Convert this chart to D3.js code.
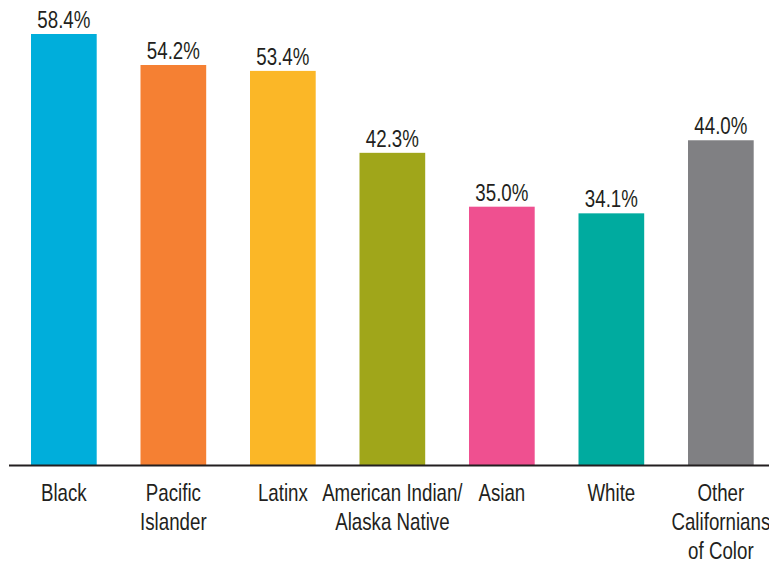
<!DOCTYPE html>
<html>
<head>
<meta charset="utf-8">
<script src="https://cdn.jsdelivr.net/npm/d3@7"></script>
<style>
  body { margin: 0; background: #fff; }
  text { font-family: "Liberation Sans", Arial, sans-serif; fill: #231f20; }
</style>
</head>
<body>
<script>
var w = 769;
var h = 562;

var groups = [
  ["Black"],
  ["Pacific", "Islander"],
  ["Latinx"],
  ["American Indian/", "Alaska Native"],
  ["Asian"],
  ["White"],
  ["Other", "Californians", "of Color"]
];
var values = [58.4, 54.2, 53.4, 42.3, 35.0, 34.1, 44.0];
var colors = ["#00aedb", "#f58033", "#fbb727", "#a0a61a", "#ef5090", "#00ab9f", "#808083"];

var baseY = 465;
// the original uses a condensed face, so squeeze text horizontally
var squeeze = 0.78;

var svg = d3.select("body")
            .append("svg")
            .attr("width", w)
            .attr("height", h);

var x = d3.scaleBand()
          .domain(d3.range(values.length))
          .range([9.1, 775.6])
          .paddingInner(0.4)
          .paddingOuter(0.2);

var y = d3.scaleLinear()
          .domain([0, 58.4])
          .range([baseY, 34]);

svg.selectAll("rect")
   .data(values)
   .enter()
   .append("rect")
   .attr("x", function(d, i){ return x(i); })
   .attr("y", function(d){ return y(d); })
   .attr("width", x.bandwidth())
   .attr("height", function(d){ return baseY - y(d); })
   .attr("fill", function(d, i){ return colors[i]; });

// value labels above bars
svg.selectAll("text.val")
   .data(values)
   .enter()
   .append("text")
   .attr("class", "val")
   .text(function(d){ return d.toFixed(1) + "%"; })
   .attr("transform", function(d, i){
       return "translate(" + (x(i) + x.bandwidth() / 2) + "," + (y(d) - 6) + ") scale(" + squeeze + ",1)";
   })
   .attr("font-size", "24px")
   .attr("text-anchor", "middle");

// baseline
svg.append("line")
   .attr("x1", 9)
   .attr("x2", w)
   .attr("y1", baseY + 0.5)
   .attr("y2", baseY + 0.5)
   .attr("stroke", "#231f20")
   .attr("stroke-width", 2);

// category labels, some wrap to several lines
var labels = svg.selectAll("text.cat")
   .data(groups)
   .enter()
   .append("text")
   .attr("class", "cat")
   .attr("font-size", "24px")
   .attr("text-anchor", "middle")
   .attr("transform", function(d, i){
       return "translate(" + (x(i) + x.bandwidth() / 2) + ",501) scale(" + squeeze + ",1)";
   });

labels.selectAll("tspan")
   .data(function(d){ return d; })
   .enter()
   .append("tspan")
   .attr("x", 0)
   .attr("dy", function(d, i){ return i === 0 ? 0 : 29; })
   .text(function(d){ return d; });
</script>
</body>
</html>
